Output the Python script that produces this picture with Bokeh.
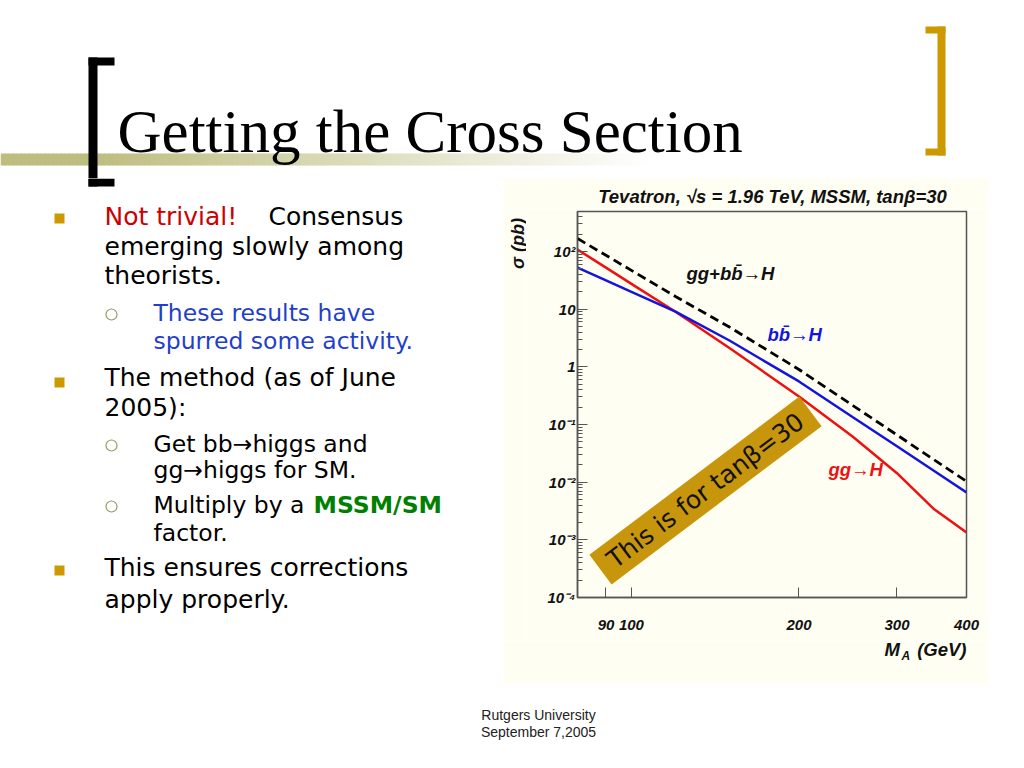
import math
from bokeh.plotting import figure
from bokeh.layouts import column, row
from bokeh.models import Range1d, FixedTicker, Label
from bokeh.core.properties import value
from bokeh.embed import file_html
from bokeh.resources import INLINE

# ---------------- data ----------------
mass = [80, 90, 100, 120, 150, 200, 250, 300, 350, 400]
sigma_gg = [108, 52.5, 27.5, 9.0, 2.12, 0.307, 0.0613, 0.0143, 0.00338, 0.00134]
sigma_bb = [52.7, 31.6, 20.0, 9.07, 2.86, 0.558, 0.134, 0.0419, 0.0156, 0.00662]
sigma_sum = [168, 85.9, 47.0, 16.6, 4.89, 0.90, 0.213, 0.066, 0.0243, 0.0103]

x_ticks = [90, 100, 200, 300, 400]
y_ticks = [1e-4, 1e-3, 1e-2, 1e-1, 1.0, 10.0, 100.0]
y_tick_labels = ["10⁻⁴", "10⁻³", "10⁻²", "10⁻¹", "1", "10", "10²"]

chart_title = "Tevatron, √s = 1.96 TeV, MSSM, tanβ=30"
y_label = "σ (pb)"
label_sum = "gg+bb\u0304→H"
label_bb = "bb\u0304→H"
label_gg = "gg→H"
note_text = "This is for tanβ=30"

slide_title = "Getting the Cross Section"
footer = ["Rutgers University", "September 7,2005"]

# ---------------- style constants ----------------
CREAM = "#FFFEF2"
GOLD = "#CC9900"
BODY = "DejaVu Sans"
ROOT = "Liberation Sans"
RED = "#CC0000"
BLUE = "#1F3FCC"
GREEN = "#008000"
INK = "#111111"

TOTAL_W = 1008
Y_TOP, Y_MID, Y_CH, Y_BOT, Y_END = 0, 178, 208, 640, 752
X_SPLIT, X_CHART_END = 526, 988
FL, FR, FT, FB = 577, 966, 211, 597   # chart frame edges (page px)


def no_align(f):
    try:
        f.frame_align = False
    except Exception:
        pass


def canvas(x0, x1, y0, y1, bg="white"):
    f = figure(width=x1 - x0, height=y1 - y0,
               x_range=Range1d(x0, x1), y_range=Range1d(y1, y0),
               x_axis_location=None, y_axis_location=None,
               min_border=0, toolbar_location=None, output_backend="svg")
    f.grid.visible = False
    f.outline_line_color = None
    f.background_fill_color = bg
    f.border_fill_color = bg
    no_align(f)
    return f


def rect(f, l, t, r, b, color, alpha=1.0):
    f.quad(left=[l], right=[r], top=[t], bottom=[b], fill_color=color,
           fill_alpha=alpha, line_color=None)


def txt(f, s, x, y, size, color="black", font=BODY, style="normal",
        align="left", angle=0.0):
    f.text(x=[x], y=[y], text=[s], text_font=value(font),
           text_font_size=value(f"{size}px"), text_color=color,
           text_font_style=style, text_align=align, text_baseline="middle",
           angle=angle)


# ---------------- top band ----------------
top = canvas(0, TOTAL_W, Y_TOP, Y_MID)
# title underline: olive band fading to white (opaque blended steps)
base = (0xBD, 0xBD, 0x80)
step = 4
gl, gr, gc = [], [], []
for i in range(0, 660, step):
    a = 1.0 if i < 90 else max(0.0, 1.0 - (i - 90) / 560.0)
    c = tuple(round(255 * (1 - a) + b * a) for b in base)
    gl.append(i)
    gr.append(i + step + 1)
    gc.append("#%02x%02x%02x" % c)
top.quad(left=gl, right=gr, top=153, bottom=165, fill_color=gc, line_color=None)
# black bracket (upper part)
rect(top, 88, 57, 97, Y_MID, "black")
rect(top, 88, 57, 114, 65, "black")
# gold bracket
rect(top, 937, 26, 945, 155, GOLD)
rect(top, 925, 26, 945, 33, GOLD)
rect(top, 925, 148, 945, 155, GOLD)
txt(top, slide_title, 117, 131, 61, font="Liberation Serif")

# ---------------- left column ----------------
left = canvas(0, X_SPLIT, Y_MID, Y_BOT)
rect(left, 503, Y_MID, X_SPLIT, Y_BOT, CREAM)
rect(left, 88, Y_MID, 97, 186, "black")
rect(left, 88, 178, 114, 186, "black")
txt(left, y_label, 517, 243, 18, color=INK, font=ROOT, style="bold italic",
    align="center", angle=math.pi / 2)

for yb in (218, 382, 570):
    rect(left, 54, yb - 5, 64, yb + 5, GOLD)
left.scatter(x=[111, 111, 111], y=[314, 445, 506], marker="circle", size=11,
             fill_color=None, line_color="#999966", line_width=1.2)

lines = [
    ("Not trivial!", 104, 216, 25, RED, "normal"),
    ("Consensus", 268, 216, 25, "black", "normal"),
    ("emerging slowly among", 104, 246, 25, "black", "normal"),
    ("theorists.", 104, 275, 25, "black", "normal"),
    ("These results have", 153, 312, 23.5, BLUE, "normal"),
    ("spurred some activity.", 153, 340, 23.5, BLUE, "normal"),
    ("The method (as of June", 104, 377, 25, "black", "normal"),
    ("2005):", 104, 407, 25, "black", "normal"),
    ("Get bb→higgs and", 153, 443, 23.5, "black", "normal"),
    ("gg→higgs for SM.", 153, 469, 23.5, "black", "normal"),
    ("Multiply by a", 153, 504, 23.5, "black", "normal"),
    ("MSSM/SM", 313, 504, 23.5, GREEN, "bold"),
    ("factor.", 153, 532, 23.5, "black", "normal"),
    ("This ensures corrections", 104, 567, 25, "black", "normal"),
    ("apply properly.", 104, 599, 25, "black", "normal"),
]
for s, x, y, size, color, style in lines:
    txt(left, s, x, y, size, color=color, style=style)

# ---------------- chart title band ----------------
band = canvas(X_SPLIT, X_CHART_END, Y_MID, Y_CH, bg=CREAM)
txt(band, chart_title, 772, 196, 18.5, color=INK, font=ROOT,
    style="bold italic", align="center")

# ---------------- chart ----------------
p = figure(width=X_CHART_END - X_SPLIT, height=Y_BOT - Y_CH,
           x_axis_type="log", y_axis_type="log",
           x_range=Range1d(80, 400), y_range=Range1d(1e-4, 494),
           output_backend="svg", toolbar_location=None,
           min_border_left=FL - X_SPLIT, min_border_right=X_CHART_END - FR,
           min_border_top=FT - Y_CH, min_border_bottom=Y_BOT - FB)
no_align(p)
p.background_fill_color = CREAM
p.border_fill_color = CREAM
p.outline_line_color = "#555555"
p.outline_line_width = 1.5
p.grid.visible = False

p.xaxis.ticker = FixedTicker(ticks=x_ticks, minor_ticks=[])
minor = [k * d for d in y_ticks for k in range(2, 10)]
p.yaxis.ticker = FixedTicker(ticks=y_ticks, minor_ticks=minor)
p.yaxis.major_label_overrides = {t: s for t, s in zip(y_ticks, y_tick_labels)}

for ax in (p.xaxis[0], p.yaxis[0]):
    ax.axis_line_color = "#555555"
    ax.axis_line_width = 1.5
    ax.major_tick_line_color = "#555555"
    ax.minor_tick_line_color = "#555555"
    ax.major_tick_in = 10
    ax.major_tick_out = 0
    ax.minor_tick_in = 5
    ax.minor_tick_out = 0
    ax.major_label_text_font = ROOT
    ax.major_label_text_font_style = "bold italic"
    ax.major_label_text_font_size = "15px"
    ax.major_label_text_color = INK
p.xaxis.major_label_standoff = 22
p.yaxis.major_label_standoff = 2

p.line(mass, sigma_gg, line_color="#EE1111", line_width=2.5)
p.line(mass, sigma_bb, line_color="#1414DD", line_width=2.5)
p.line(mass, sigma_sum, line_color="black", line_width=2.8, line_dash="9 5")


def lab(s, px, py, size, color=INK, font=ROOT, style="bold italic",
        align="left", angle=0.0, **kw):
    p.add_layout(Label(x=px - FL, y=FB - py, x_units="screen", y_units="screen",
                       text=s, text_font=font, text_font_size=f"{size}px",
                       text_color=color, text_font_style=style,
                       text_align=align, text_baseline="middle",
                       angle=angle, **kw))


lab(label_sum, 686, 273, 18.5)
lab(label_bb, 767, 334, 18.5, color="#1414DD")
lab(label_gg, 828, 469, 18.5, color="#EE1111")
lab(note_text, 705, 490, 25, color="#111111", font=BODY, style="normal",
    align="center", angle=math.radians(37),
    background_fill_color="#C8960C", padding=(12, 4))

# ---------------- bottom band ----------------
bot = canvas(0, TOTAL_W, Y_BOT, Y_END)
rect(bot, 503, Y_BOT, 988, 683, CREAM)
txt(bot, "M", 884, 649, 18.5, color=INK, font=ROOT, style="bold italic")
txt(bot, "A", 901, 655, 12, color=INK, font=ROOT, style="bold italic")
txt(bot, "(GeV)", 966, 649, 18.5, color=INK, font=ROOT, style="bold italic",
    align="right")
txt(bot, footer[0], 538, 714, 14, color="#222222", font=ROOT, align="center")
txt(bot, footer[1], 538, 731, 14, color="#222222", font=ROOT, align="center")

layout = column(top, row(left, column(band, p)), bot)
open("out.html", "w").write(file_html(layout, INLINE))
